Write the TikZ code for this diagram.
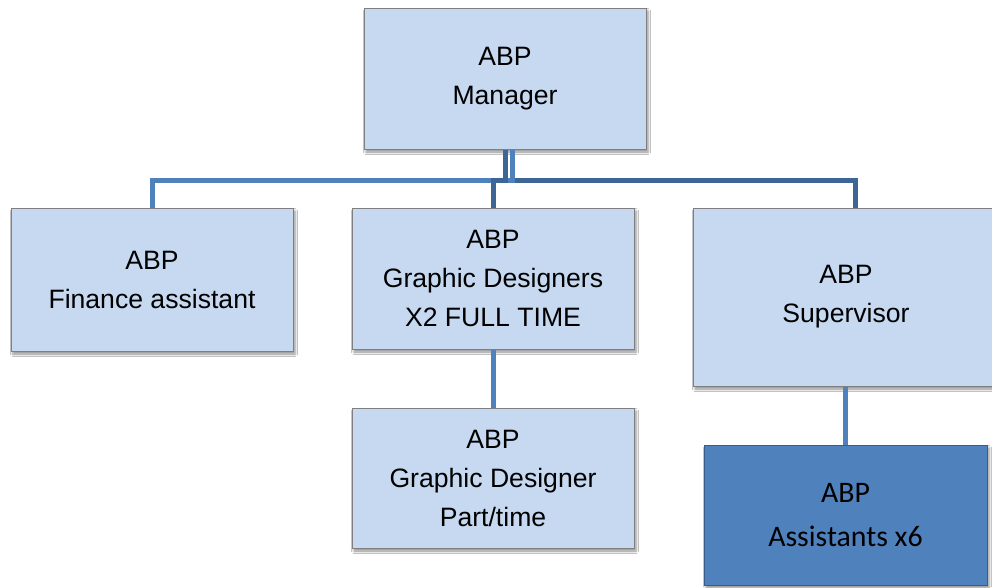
\documentclass[tikz,border=0pt]{standalone}
\usepackage{fontspec}
\setmainfont{Liberation Sans}
\newfontfamily\calib{Carlito}
\usetikzlibrary{shadows,shadows.blur}
\definecolor{boxfill}{HTML}{C6D9F1}
\definecolor{boxline}{HTML}{7F7F7F}
\definecolor{accentfill}{HTML}{4F81BD}
\definecolor{accentline}{HTML}{385D8A}
\definecolor{linklight}{HTML}{4F81BD}
\definecolor{linkdark}{HTML}{3D6696}
\tikzset{
  unit/.style={rectangle, fill=boxfill, draw=boxline, line width=1pt,
    inner sep=0pt, align=center, font=\fontsize{26.6}{39}\selectfont,
    blur shadow={shadow xshift=2pt, shadow yshift=-3pt, shadow blur radius=2.5pt,
      shadow opacity=45}},
  accentunit/.style={unit, fill=accentfill, draw=accentline,
    font=\calib\fontsize{29.8}{44}\selectfont},
  linkL/.style={draw=linklight, line width=5pt},
  linkD/.style={draw=linkdark, line width=5pt}
}
\begin{document}
\begin{tikzpicture}[x=1pt,y=1pt]
\useasboundingbox (0,0) rectangle (992,-587);
\clip (0,0) rectangle (992,-587);
\fill[white] (0,0) rectangle (992,-587);

% boxes
\node[unit, minimum width=282pt, minimum height=141pt] (mgr) at (505,-78.5) {ABP\\Manager};
\node[unit, minimum width=282pt, minimum height=143pt] (fin) at (152,-279.5) {ABP\\Finance assistant};
\node[unit, minimum width=282pt, minimum height=141pt] (gd) at (493,-278.5) {ABP\\Graphic Designers\\X2 FULL TIME};
\node[unit, minimum width=306pt, minimum height=178pt] (sup) at (846,-297) {ABP\\Supervisor};
\node[unit, minimum width=282pt, minimum height=140pt] (pt) at (493,-478) {ABP\\Graphic Designer\\Part/time};
\node[accentunit, minimum width=283pt, minimum height=140pt] (asst) at (845.5,-515) {ABP\\Assistants x6};

% connectors
\coordinate (bus) at (0,-180);
\coordinate (tap) at ([xshift=7pt]mgr.south);
\coordinate (supin) at ([xshift=9pt]sup.north);
\draw[linkD] (tap |- bus) -| (supin);
\draw[linkL] (tap) |- (bus -| fin.north) -- (fin.north);
\draw[linkD] (mgr.south) |- (bus -| gd.north) -- (gd.north);
\draw[linkL] (gd.south) -- (pt.north);
\draw[linkL] (sup.south -| asst.north) -- (asst.north);
\end{tikzpicture}
\end{document}
